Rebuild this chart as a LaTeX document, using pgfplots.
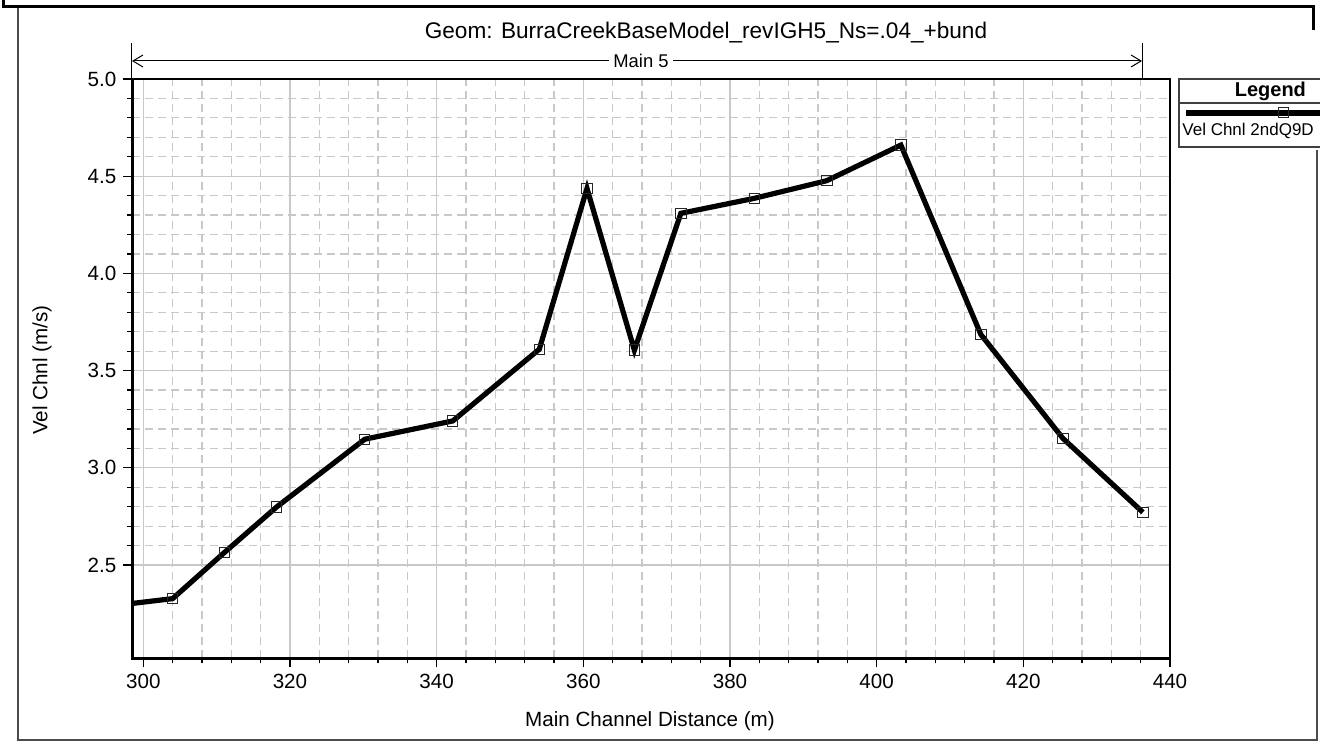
\documentclass[border=0pt]{standalone}
\usepackage{fontspec}
\setmainfont{Liberation Sans}
\usepackage{pgfplots}
\pgfplotsset{compat=1.18}
\usetikzlibrary{arrows.meta}
\definecolor{gridgray}{RGB}{200,200,200}
\begin{document}
\begin{tikzpicture}
\begin{axis}[
  at={(66.15pt,43.35pt)}, anchor=south west,
  scale only axis, width=518.85pt, height=289.65pt,
  xmin=298.5, xmax=440, ymin=2.02, ymax=5.0,
  xtick={300,320,...,440}, ytick={2.5,3.0,3.5,4.0,4.5,5.0},
  minor x tick num=4, minor y tick num=4,
  grid=both,
  major grid style={gridgray, line width=0.6pt},
  minor grid style={gridgray, dash pattern=on 4pt off 2.5pt, line width=0.6pt},
  tick align=outside, tick pos=left,
  major tick length=4.5pt, minor tick length=2.5pt,
  every tick/.style={black, line width=0.6pt},
  axis line style={black, line width=1.3pt},
  /pgf/number format/assume math mode=true,
  yticklabel style={/pgf/number format/.cd, fixed, fixed zerofill, precision=1},
  xticklabel style={/pgf/number format/.cd, fixed},
  ticklabel style={font=\fontsize{10.3}{12}\selectfont},
  clip=true,
]
\addplot[black, line width=2.6pt, mark=square, mark size=2.6pt,
  mark options={solid, line width=0.5pt, draw=black!85, fill=none}]
  coordinates {
  (292.0,2.273)
  (304.0,2.327)
  (311.05,2.564)
  (318.2,2.799)
  (330.2,3.147)
  (342.2,3.241)
  (354.0,3.610)
  (360.5,4.437)
  (366.96,3.605)
  (373.3,4.309)
  (383.3,4.386)
  (393.2,4.477)
  (403.3,4.660)
  (414.2,3.686)
  (425.4,3.151)
  (436.3,2.771)
  };
\end{axis}
\begin{scope}[x=0.5pt,y=0.5pt]
\path[use as bounding box] (0,0) rectangle (1320,745);
% window frame
\draw[line width=1.5pt] (3,745) -- (3,738) -- (1313,738) -- (1313,715);
\draw[line width=0.6pt, black!70] (18,737) -- (18,5) -- (1317,5) -- (1317,595);
% title
\node[font=\fontsize{11.3}{13}\selectfont] at (706,712) {Geom: BurraCreekBaseModel\_revIGH5\_Ns=.04\_+bund};
% reach arrow
\draw[line width=0.6pt] (131.5,702) -- (131.5,666);
\draw[line width=0.6pt] (1142.7,702) -- (1142.7,666);
\draw[line width=0.5pt, {Straight Barb[length=5pt,width=6pt]}-{Straight Barb[length=5pt,width=6pt]}] (132,684) -- (1142,684);
\node[fill=white, inner sep=2pt, font=\fontsize{9.2}{11}\selectfont] at (641,684) {Main 5};
% axis labels
\node[font=\fontsize{10.3}{12}\selectfont] at (650,24) {Main Channel Distance (m)};
\node[font=\fontsize{10.3}{12}\selectfont, rotate=90] at (42,375) {Vel Chnl (m/s)};
% legend
\begin{scope}
\clip (1100,560) rectangle (1320,700);
\draw[line width=0.6pt, black!75] (1330,666) -- (1179,666) -- (1179,598) -- (1330,598);
\draw[line width=0.6pt, black!75] (1179,642) -- (1330,642);
\node[anchor=east, font=\bfseries\fontsize{10}{12}\selectfont] at (1313,654) {Legend};
\draw[black, line width=2.6pt] (1186,632) -- (1330,632);
\draw[line width=0.5pt, draw=black!85] (1278,627) rectangle (1288,637);
\node[anchor=west, inner sep=0pt, font=\fontsize{8.5}{10}\selectfont] at (1182,614) {Vel Chnl 2ndQ9D};
\end{scope}
\end{scope}
\end{tikzpicture}
\end{document}
